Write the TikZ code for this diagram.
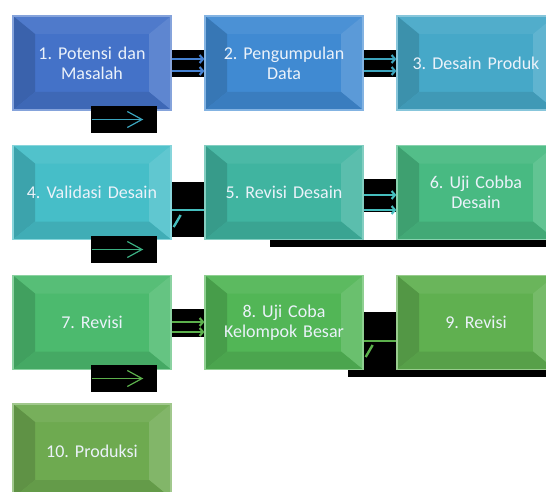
\documentclass[tikz,border=0pt]{standalone}
\usepackage{fontspec}
\setmainfont{Carlito}
\usepackage{tikz}
\usetikzlibrary{positioning, arrows.meta, calc}
\frenchspacing
\definecolor{StageOne}{RGB}{68,114,200}
\definecolor{StageTwo}{RGB}{64,138,210}
\definecolor{StageThree}{RGB}{70,168,200}
\definecolor{StageFour}{RGB}{70,190,200}
\definecolor{StageFive}{RGB}{64,180,160}
\definecolor{StageSix}{RGB}{72,186,130}
\definecolor{StageSeven}{RGB}{76,186,110}
\definecolor{StageEight}{RGB}{82,182,86}
\definecolor{StageNine}{RGB}{96,176,80}
\definecolor{StageTen}{RGB}{110,170,80}
\definecolor{LabelColor}{RGB}{235,242,250}
\definecolor{BlueLink}{RGB}{70,130,210}
\definecolor{TealLink}{RGB}{60,165,190}
\definecolor{CyanLink}{RGB}{70,190,190}
\definecolor{MintLink}{RGB}{60,175,130}
\definecolor{GreenLink}{RGB}{92,176,76}
\tikzstyle{link} = [line width=1.6pt, -{Straight Barb[length=2.5pt,width=6pt]}]
\tikzstyle{flow} = [line width=0.9pt, -{Straight Barb[length=11pt,width=12pt]}]
\tikzstyle{gap} = [rectangle, fill=black, minimum width=49.5pt, minimum height=20.25pt, inner sep=0pt]
\tikzset{stage/.style={rectangle, fill=#1, draw=#1!65!white, line width=1pt,
    minimum width=118.5pt, minimum height=70.5pt, inner sep=0pt,
    text width=112pt, align=center, text=LabelColor,
    font=\fontsize{13.5}{15}\selectfont,
    path picture={
      \fill[#1!94!white] (path picture bounding box.north west) -- (path picture bounding box.north east)
        -- ([xshift=-16.5pt,yshift=-13.5pt]path picture bounding box.north east)
        -- ([xshift=16.5pt,yshift=-13.5pt]path picture bounding box.north west) -- cycle;
      \fill[#1!86!black] (path picture bounding box.north west) -- (path picture bounding box.south west)
        -- ([xshift=16.5pt,yshift=13.5pt]path picture bounding box.south west)
        -- ([xshift=16.5pt,yshift=-13.5pt]path picture bounding box.north west) -- cycle;
      \fill[#1!86!white] (path picture bounding box.north east) -- (path picture bounding box.south east)
        -- ([xshift=-16.5pt,yshift=13.5pt]path picture bounding box.south east)
        -- ([xshift=-16.5pt,yshift=-13.5pt]path picture bounding box.north east) -- cycle;
      \fill[#1!91!black] (path picture bounding box.south west) -- (path picture bounding box.south east)
        -- ([xshift=-16.5pt,yshift=13.5pt]path picture bounding box.south east)
        -- ([xshift=16.5pt,yshift=13.5pt]path picture bounding box.south west) -- cycle;
    }}}

\begin{document}
\begin{tikzpicture}[x=0.75pt, y=-0.75pt]
    \clip (0,0) rectangle (546,492);
    \fill[white] (0,0) rectangle (546,492);

    % Dark backdrops between the steps
    \fill[black] (171,50) rectangle (205,77);
    \fill[black] (362,50) rectangle (398,77);
    \fill[black] (171,182) rectangle (205,237);
    \fill[black] (362,179) rectangle (398,212);
    \fill[black] (270,240) rectangle (546,247);
    \fill[black] (171,309) rectangle (205,337);
    \fill[black] (362,312) rectangle (398,377);
    \fill[black] (348,367) rectangle (546,377);

    % Steps
    \node[stage=StageOne] (potensi) at (92,63) {1. Potensi dan\\Masalah};
    \node[stage=StageTwo] (data) at (284,63) {2. Pengumpulan\\Data};
    \node[stage=StageThree] (produk) at (476,63) {3. Desain Produk};

    \node[stage=StageFour] (validasi) at (92,192.5) {4. Validasi Desain};
    \node[stage=StageFive] (revdesain) at (284,192.5) {5. Revisi Desain};
    \node[stage=StageSix] (ujidesain) at (476,192.5) {6. Uji Cobba\\Desain};

    \node[stage=StageSeven] (revisi) at (92,322.5) {7. Revisi};
    \node[stage=StageEight] (ujibesar) at (284,322.5) {8. Uji Coba\\Kelompok Besar};
    \node[stage=StageNine] (revakhir) at (476,322.5) {9. Revisi};

    \node[stage=StageTen] (produksi) at (92,451) {10. Produksi};

    % Row turns
    \node[gap] (turnone) at (124,119.5) {};
    \node[gap] (turntwo) at (124,249.5) {};
    \node[gap] (turnthree) at (124,378.5) {};
    \draw[flow, TealLink] ([xshift=0.75pt]turnone.west) -- ([xshift=-10.5pt]turnone.east);
    \draw[flow, MintLink] ([xshift=0.75pt]turntwo.west) -- ([xshift=-10.5pt]turntwo.east);
    \draw[flow, GreenLink] ([xshift=0.75pt]turnthree.west) -- ([xshift=-10.5pt]turnthree.east);

    % Step connections
    \draw[link, BlueLink] ($(potensi.east)+(0,-4)$) -- ($(data.west)+(0,-4)$);
    \draw[link, BlueLink] ($(potensi.east)+(0,8)$) -- ($(data.west)+(0,8)$);
    \draw[link, TealLink] ($(data.east)+(0,-4)$) -- ($(produk.west)+(0,-4)$);
    \draw[link, TealLink] ($(data.east)+(0,8)$) -- ($(produk.west)+(0,8)$);

    \draw[line width=1.6pt, CyanLink] ($(validasi.east)+(0,17.5)$) -- ($(revdesain.west)+(0,17.5)$);
    \draw[line width=1.8pt, CyanLink] ($(validasi.east)+(9,22.5)$) -- ($(validasi.east)+(2,34.5)$);
    \draw[link, CyanLink] ($(revdesain.east)+(0,2.5)$) -- ($(ujidesain.west)+(0,2.5)$);
    \draw[link, CyanLink] ($(revdesain.east)+(0,17.5)$) -- ($(ujidesain.west)+(0,17.5)$);

    \draw[link, GreenLink] ($(revisi.east)+(0,-0.5)$) -- ($(ujibesar.west)+(0,-0.5)$);
    \draw[link, GreenLink] ($(revisi.east)+(0,9.5)$) -- ($(ujibesar.west)+(0,9.5)$);
    \draw[line width=1.6pt, GreenLink] ($(ujibesar.east)+(0,18.5)$) -- ($(revakhir.west)+(0,18.5)$);
    \draw[line width=1.8pt, GreenLink] ($(ujibesar.east)+(9,22.5)$) -- ($(ujibesar.east)+(2,34.5)$);
\end{tikzpicture}
\end{document}
